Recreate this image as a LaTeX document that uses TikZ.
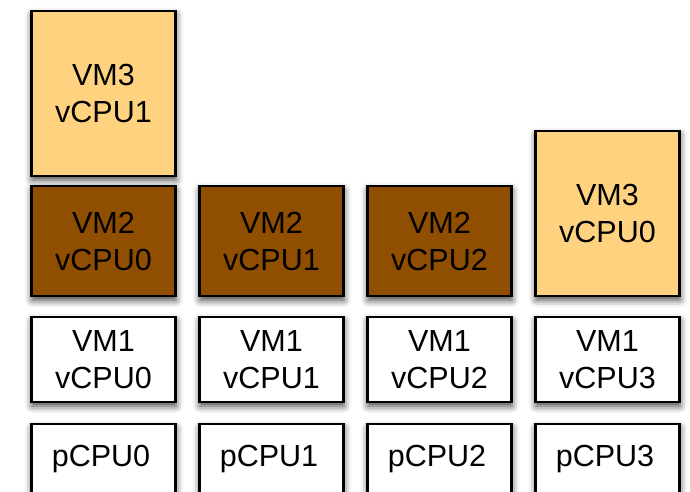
\documentclass[tikz,border=0pt]{standalone}
\usepackage{fontspec}
\setmainfont{Liberation Sans}
\usetikzlibrary{shadows.blur}
\definecolor{vmlight}{HTML}{FED27F}
\definecolor{vmbrown}{HTML}{8F4E00}
\tikzset{
  cell/.style={draw=black, line width=2.3pt, minimum width=144pt, inner sep=0pt,
    align=center, font=\fontsize{30.5}{37.5}\selectfont,
    blur shadow={shadow xshift=0.5pt, shadow yshift=-4pt, shadow blur radius=7pt, shadow opacity=75}},
  tallcell/.style={cell, fill=vmlight, minimum height=165pt},
  midcell/.style={cell, fill=vmbrown, minimum height=110pt},
  lowcell/.style={cell, fill=white, minimum height=85pt},
  cpucell/.style={cell, fill=white, minimum height=96pt},
  cpulabel/.style={anchor=base, inner sep=0pt, font=\fontsize{30.5}{37.5}\selectfont},
}
\begin{document}
\begin{tikzpicture}[x=1pt, y=-1pt]
  \useasboundingbox (0,0) rectangle (690,492);

  % physical CPUs (bottom row, running past the lower edge)
  \node[cpucell] (p0) at (103.5,472) {};
  \node[cpucell] (p1) at (271.5,472) {};
  \node[cpucell] (p2) at (439.5,472) {};
  \node[cpucell] (p3) at (607.5,472) {};
  \node[cpulabel] (p0t) at (101,466.5) {pCPU0};
  \node[cpulabel] (p1t) at (269,466.5) {pCPU1};
  \node[cpulabel] (p2t) at (437,466.5) {pCPU2};
  \node[cpulabel] (p3t) at (605,466.5) {pCPU3};

  % VM1 vCPUs
  \node[lowcell] (a0) at (103.5,359.5) {VM1\\vCPU0};
  \node[lowcell] (a1) at (271.5,359.5) {VM1\\vCPU1};
  \node[lowcell] (a2) at (439.5,359.5) {VM1\\vCPU2};
  \node[lowcell] (a3) at (607.5,359.5) {VM1\\vCPU3};

  % VM2 vCPUs
  \node[midcell] (b0) at (103.5,241.3) {VM2\\vCPU0};
  \node[midcell] (b1) at (271.5,241.3) {VM2\\vCPU1};
  \node[midcell] (b2) at (439.5,241.3) {VM2\\vCPU2};

  % VM3 vCPUs
  \node[tallcell] (c0) at (607.5,213.3) {VM3\\vCPU0};
  \node[tallcell] (c1) at (103.5,93.3) {VM3\\vCPU1};
\end{tikzpicture}
\end{document}
